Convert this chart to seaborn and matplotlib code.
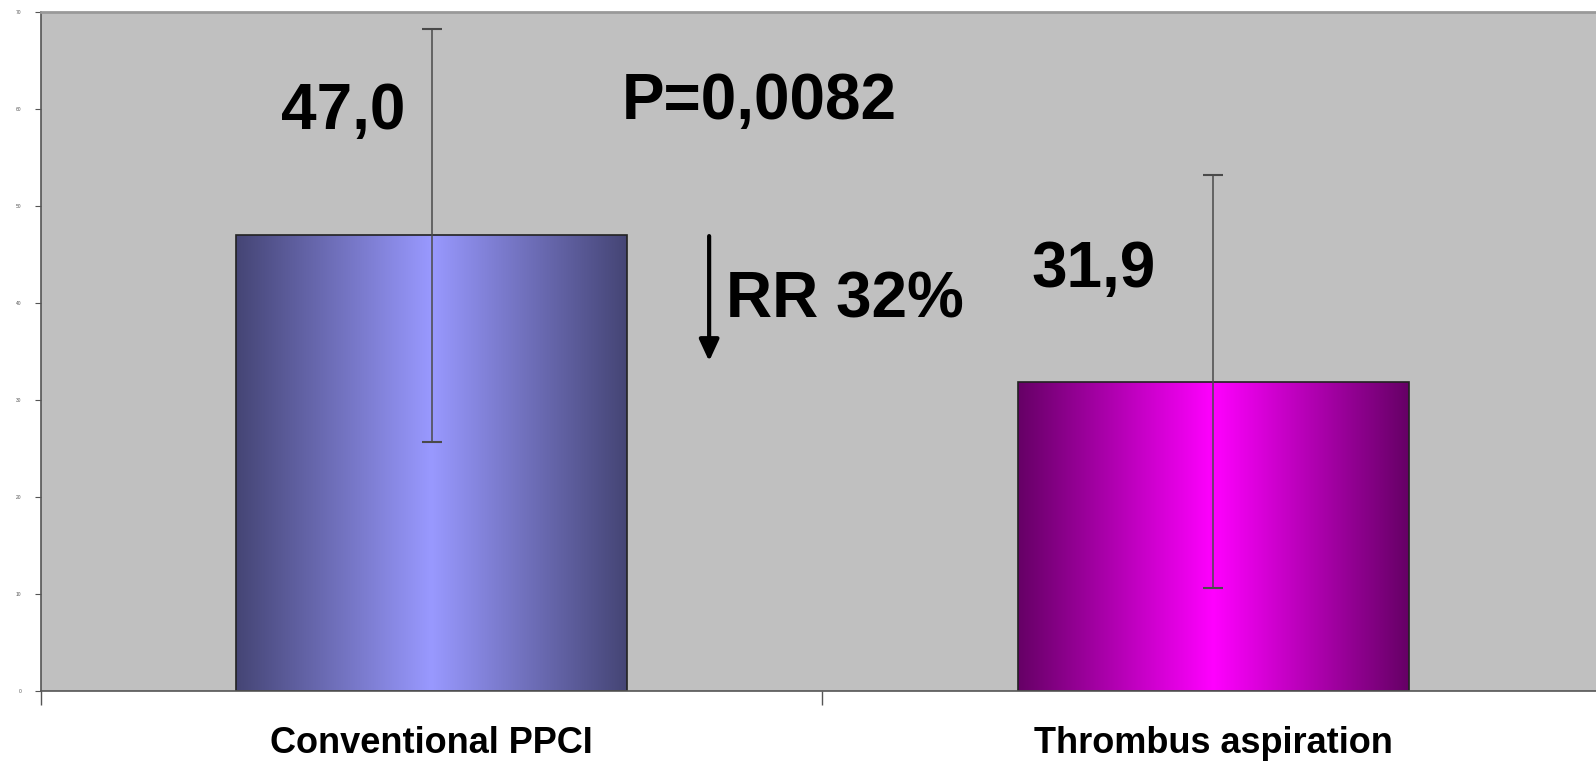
import numpy as np
import pandas as pd
import seaborn as sns
import matplotlib.pyplot as plt
from matplotlib.colors import LinearSegmentedColormap

# Data
groups = ['Conventional PPCI', 'Thrombus aspiration']
values = [47.0, 31.9]
sd = [21.3, 21.3]
value_labels = ['47,0', '31,9']
edge_colors = ['#454575', '#660066']
center_colors = ['#9999FF', '#FF00FF']

df = pd.DataFrame({'group': groups, 'value': values})

sns.set_style('white')
plt.rcParams['font.family'] = ['Liberation Sans', 'DejaVu Sans']
plt.rcParams['text.color'] = 'black'

fig = plt.figure(figsize=(15.96, 7.62), dpi=100)
ax = fig.add_axes([0.0255, 0.0932, 0.9797, 0.891])
ax.set_facecolor('#C0C0C0')

sns.barplot(data=df, x='group', y='value', width=0.5, color='white',
            edgecolor='#222222', linewidth=1.2, ax=ax, zorder=2)

# Horizontal gradient fill inside each bar (dark edges, light centre)
grad = np.abs(np.linspace(-1, 1, 256))[None, :]
for patch, c0, c1 in zip(ax.patches, edge_colors, center_colors):
    patch.set_facecolor('none')
    x0, y0 = patch.get_x(), patch.get_y()
    w, h = patch.get_width(), patch.get_height()
    cmap = LinearSegmentedColormap.from_list('g', [c1, c0])
    im = ax.imshow(grad, cmap=cmap, extent=[x0, x0 + w, y0, y0 + h],
                   aspect='auto', zorder=1.5, vmin=0, vmax=1,
                   interpolation='bilinear')
    im.set_clip_path(patch)

ax.errorbar(x=range(len(groups)), y=values, yerr=sd, fmt='none',
            ecolor='#4a4a4a', elinewidth=1.1, capsize=7, capthick=1.5, zorder=3)

ax.set_xlim(-0.5, 1.5)
ax.set_ylim(0, 70)
ax.set_yticks(range(0, 80, 10))
ax.tick_params(axis='y', labelsize=3.5, labelcolor='#555555', length=4,
               width=0.8, color='#555555', pad=10, left=True)

ax.set_xticks(range(len(groups)))
ax.set_xticklabels(groups, fontsize=26, fontweight='bold', color='black')
ax.tick_params(axis='x', length=0, pad=25)
ax.set_xticks([-0.5, 0.5, 1.5], minor=True)
ax.tick_params(axis='x', which='minor', length=10, width=1, color='#555555',
               bottom=True)
ax.set_xlabel('')
ax.set_ylabel('')

for s in ['left', 'bottom']:
    ax.spines[s].set_color('#555555')
    ax.spines[s].set_linewidth(1.2)
ax.spines['top'].set_color('#999999')
ax.spines['top'].set_linewidth(2)
ax.spines['right'].set_visible(False)

ax.text(-0.113, 59.7, value_labels[0], fontsize=46, fontweight='bold',
        ha='center', va='center', zorder=4, color='black')
ax.text(0.847, 43.4, value_labels[1], fontsize=46, fontweight='bold',
        ha='center', va='center', zorder=4, color='black')
ax.text(0.419, 60.75, 'P=0,0082', fontsize=46, fontweight='bold',
        ha='center', va='center', zorder=4, color='black')
ax.text(0.376, 40.3, 'RR 32%', fontsize=46, fontweight='bold',
        ha='left', va='center', zorder=4, color='black')
ax.annotate('', xy=(0.355, 34.0), xytext=(0.355, 46.9),
            arrowprops=dict(arrowstyle='-|>,head_width=0.6,head_length=1.3',
                            lw=3, color='black', shrinkA=0, shrinkB=0),
            zorder=4)

fig.savefig('out.png', dpi=100, facecolor='white')
